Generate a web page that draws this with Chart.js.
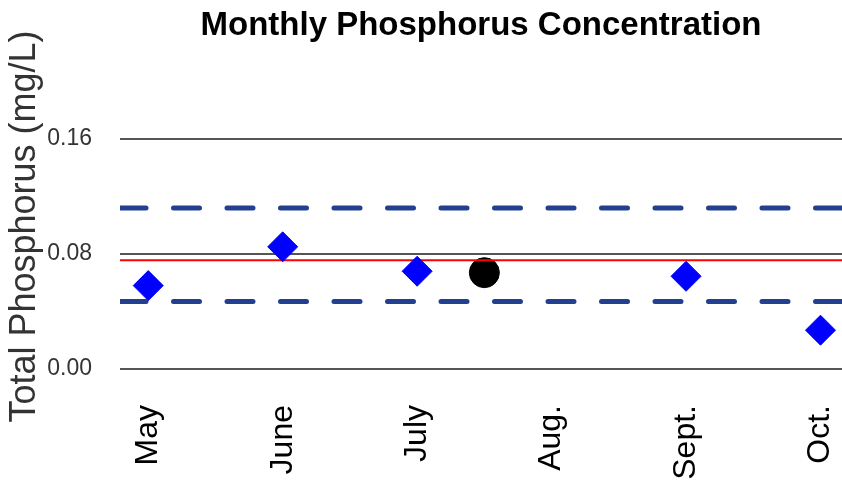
<!DOCTYPE html>
<html>
<head>
<meta charset="utf-8">
<script src="https://cdn.jsdelivr.net/npm/chart.js@4.4.1/dist/chart.umd.min.js"></script>
<style>
  html, body { margin: 0; padding: 0; background: #fff; }
  #wrap { width: 842px; height: 486px; }
</style>
</head>
<body>
<div id="wrap"><canvas id="myChart" width="842" height="486"></canvas></div>
<script>
// month axis (0 = May ... 5 = Oct.)
var months = ['May', 'June', 'July', 'Aug.', 'Sept.', 'Oct.'];
var monthIdx = [0, 1, 2, 3, 4, 5];

// monthly samples (blue diamonds)
var sampleX = [0, 1, 2, 4, 5];
var sampleTP = [0.058, 0.085, 0.068, 0.0645, 0.027];

// extra sample (black dot)
var extraX = [2.5];
var extraTP = [0.067];

// reference lines
var meanTP = 0.0756;
var limitsTP = [0.112, 0.047];

var yTicks = [0, 0.08, 0.16];
var xMin = -0.21, xMax = 5.16;

function pts(xs, ys) {
    return xs.map(function (x, i) { return { x: x, y: ys[i] }; });
}
function hline(v) {
    return [{ x: xMin, y: v }, { x: xMax, y: v }];
}

var ctx = document.getElementById('myChart');

var myChart = new Chart(ctx, {
    type: 'scatter',
    data: {
        datasets: [{
            data: pts(sampleX, sampleTP),
            pointStyle: 'rectRot',
            pointRadius: 15,
            borderWidth: 1,
            backgroundColor: '#0000ff',
            borderColor: '#0000ff',
            order: 0
        }, {
            type: 'line',
            data: hline(meanTP),
            borderColor: '#ff0000',
            borderWidth: 2,
            pointRadius: 0,
            fill: false,
            order: 1
        }, {
            data: pts(extraX, extraTP),
            pointStyle: 'circle',
            pointRadius: 15,
            borderWidth: 1,
            backgroundColor: '#000000',
            borderColor: '#000000',
            order: 2
        }, {
            type: 'line',
            data: hline(limitsTP[0]),
            borderColor: '#22408f',
            borderWidth: 5,
            borderDash: [26, 27.5],
            borderCapStyle: 'round',
            pointRadius: 0,
            fill: false,
            order: 3
        }, {
            type: 'line',
            data: hline(limitsTP[1]),
            borderColor: '#22408f',
            borderWidth: 5,
            borderDash: [26, 27.5],
            borderCapStyle: 'round',
            pointRadius: 0,
            fill: false,
            order: 3
        }]
    },
    options: {
        responsive: false,
        animation: false,
        devicePixelRatio: 1,
        layout: { padding: 0, autoPadding: false },
        plugins: {
            legend: { display: false },
            tooltip: { enabled: false },
            title: {
                display: true,
                text: 'Monthly Phosphorus Concentration',
                fullSize: false,
                color: '#000',
                font: { family: 'Liberation Sans', size: 33, weight: 'bold' },
                padding: { top: 6, bottom: 27.4 }
            }
        },
        scales: {
            x: {
                type: 'linear',
                min: xMin,
                max: xMax,
                grid: { display: false, drawTicks: false },
                border: { display: false },
                afterBuildTicks: function (s) {
                    s.ticks = monthIdx.map(function (v) { return { value: v }; });
                },
                afterFit: function (s) {
                    s.height = 106;
                    s.paddingLeft = 0;
                    s.paddingRight = 0;
                },
                ticks: {
                    autoSkip: false,
                    minRotation: 90,
                    maxRotation: 90,
                    padding: 25,
                    color: '#000',
                    font: { family: 'Liberation Sans', size: 32 },
                    callback: function (v) { return months[v]; }
                }
            },
            y: {
                min: -0.00765,
                max: 0.2059,
                z: 1,
                afterBuildTicks: function (s) {
                    s.ticks = yTicks.map(function (v) { return { value: v }; });
                },
                afterFit: function (s) { s.width = 120; },
                grid: { color: '#555', lineWidth: 2, drawTicks: false },
                border: { display: false },
                ticks: {
                    padding: 28,
                    color: '#333',
                    font: { family: 'Liberation Sans', size: 23 },
                    callback: function (v) { return v.toFixed(2); }
                },
                title: {
                    display: true,
                    text: 'Total Phosphorus (mg/L)',
                    color: '#333',
                    font: { family: 'Liberation Sans', size: 36 },
                    padding: { top: 3, bottom: 0 }
                }
            }
        }
    }
});
</script>
</body>
</html>
